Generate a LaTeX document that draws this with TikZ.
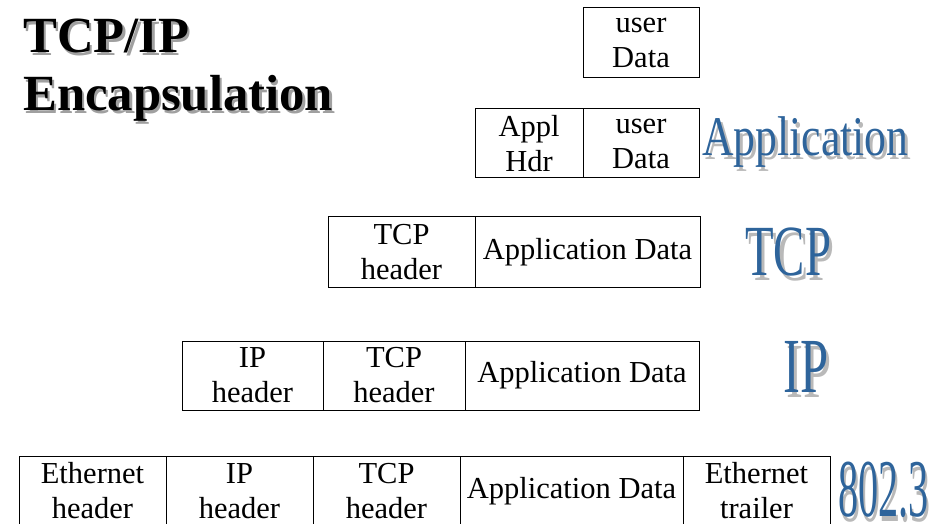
\documentclass[tikz,border=0pt]{standalone}
\usepackage{fontspec}
\setmainfont{Liberation Serif}
\usepackage{graphicx}
\definecolor{layerblue}{RGB}{46,100,155}
\definecolor{shadowgray}{RGB}{185,185,185}
\definecolor{titleshadow}{RGB}{160,160,160}
% text with a drop shadow: #1 offset, #2 shadow colour, #3 text
\newcommand{\shtext}[3]{\makebox[0pt][l]{\hspace{#1}\raisebox{-#1}{\color{#2}#3}}#3}
\tikzset{
  cell/.style={draw=black, line width=1pt, inner sep=0pt, align=center,
    font=\fontsize{30.5}{35}\selectfont},
  titletext/.style={anchor=base west, inner sep=0pt, text=black,
    font=\fontsize{50.7}{57}\selectfont\bfseries},
  layer/.style={anchor=base west, inner sep=0pt, text=layerblue}
}
\begin{document}
\begin{tikzpicture}[x=1pt,y=-1pt]
\useasboundingbox (0,0) rectangle (938,524);

% title
\node[titletext] (t1) at (23,53) {\shtext{2.5pt}{titleshadow}{TCP/IP}};
\node[titletext] (t2) at (23,111) {\shtext{2.5pt}{titleshadow}{Encapsulation}};

% row 1
\node[cell, minimum width=116pt, minimum height=70pt] (r1a) at (641,43) {user\\Data};

% row 2
\node[cell, minimum width=108pt, minimum height=69pt] (r2a) at (529,143.5) {Appl\\Hdr};
\node[cell, minimum width=116pt, minimum height=69pt] (r2b) at (641,143.5) {user\\Data};

% row 3
\node[cell, minimum width=147pt, minimum height=70pt] (r3a) at (401.5,252) {TCP\\header};
\node[cell, minimum width=225pt, minimum height=70pt] (r3b) at (587.5,252) {Application Data};

% row 4
\node[cell, minimum width=141pt, minimum height=69pt] (r4a) at (252.5,375.5) {IP\\header};
\node[cell, minimum width=142pt, minimum height=69pt] (r4b) at (394,375.5) {TCP\\header};
\node[cell, minimum width=234pt, minimum height=69pt] (r4c) at (582,375.5) {Application Data};

% row 5
\node[cell, minimum width=147pt, minimum height=70pt] (r5a) at (92.5,491) {Ethernet\\header};
\node[cell, minimum width=147pt, minimum height=70pt] (r5b) at (239.5,491) {IP\\header};
\node[cell, minimum width=147pt, minimum height=70pt] (r5c) at (386.5,491) {TCP\\header};
\node[cell, minimum width=223pt, minimum height=70pt] (r5d) at (571.5,491) {Application Data};
\node[cell, minimum width=147pt, minimum height=70pt] (r5e) at (756.5,491) {Ethernet\\trailer};

% layer labels
\node[layer, font=\fontsize{56}{56}\selectfont] (lapp) at (702,156)
  {\scalebox{0.78}[1]{\shtext{4pt}{shadowgray}{Application}}};
\node[layer, font=\fontsize{72}{72}\selectfont] (ltcp) at (745,276)
  {\scalebox{0.65}[1]{\shtext{5pt}{shadowgray}{TCP}}};
\node[layer, font=\fontsize{78}{78}\selectfont] (lip) at (783,392)
  {\scalebox{0.65}[1]{\shtext{5pt}{shadowgray}{IP}}};
\node[layer, font=\fontsize{82}{82}\selectfont] (leth) at (838,516)
  {\scalebox{0.49}[1]{\shtext{5pt}{shadowgray}{802.3}}};
\end{tikzpicture}
\end{document}
